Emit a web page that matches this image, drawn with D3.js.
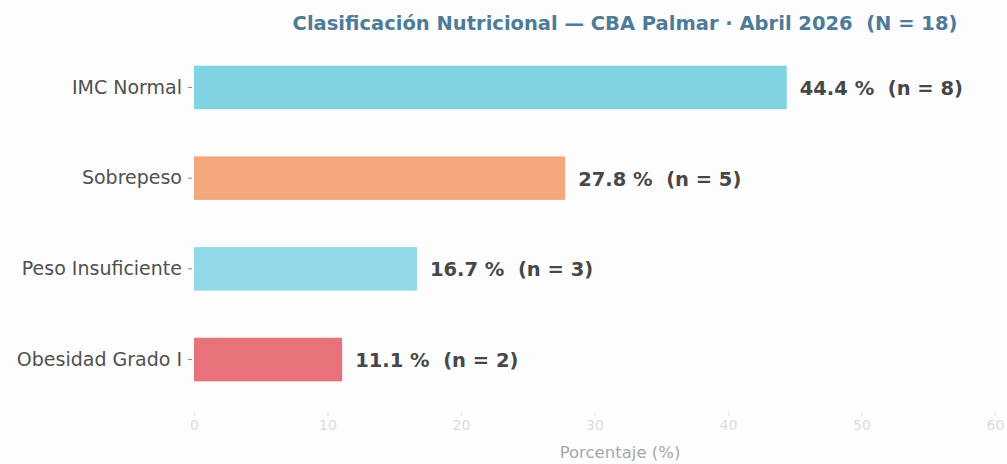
<!DOCTYPE html>
<html>
<head>
<meta charset="utf-8">
<title>Clasificación Nutricional</title>
<script src="https://d3js.org/d3.v7.min.js"></script>
<style>
    body { margin: 0; background: #fdfdfd; overflow: hidden; }
    svg text { font-family: "DejaVu Sans", sans-serif; white-space: pre; }
</style>
</head>
<body>
<svg></svg>
<script>
    const categories = ["IMC Normal", "Sobrepeso", "Peso Insuficiente", "Obesidad Grado I"];
    const percents = [44.4, 27.8, 16.7, 11.1];
    const counts = [8, 5, 3, 2];
    const colors = ["#80d4e2", "#f4a77c", "#92dae9", "#e8727a"];
    const xTicks = [0, 10, 20, 30, 40, 50, 60];
    const total = 18;

    const width = 1007, height = 464;
    const margin = { top: 43, right: 12, bottom: 60, left: 194 };

    const svg = d3.select("svg")
        .attr("width", width)
        .attr("height", height);

    svg.append("rect").attr("width", width).attr("height", height).attr("fill", "#fdfdfd");

    const x = d3.scaleLinear().domain([0, 60]).range([margin.left, width - margin.right]);
    const y = d3.scaleBand().domain(categories)
        .range([margin.top, height - margin.bottom])
        .paddingInner(0.52).paddingOuter(0.25);

    const data = categories.map((c, i) => ({ cat: c, pct: percents[i], n: counts[i], color: colors[i] }));

    // title
    svg.append("text")
        .attr("x", 625).attr("y", 30)
        .attr("text-anchor", "middle")
        .attr("font-size", "19.5px").attr("font-weight", "bold")
        .attr("fill", "#4d7b98")
        .text(`Clasificación Nutricional — CBA Palmar · Abril 2026  (N = ${total})`);

    // bars
    svg.append("g").selectAll("rect")
        .data(data).enter().append("rect")
        .attr("x", x(0))
        .attr("y", d => y(d.cat))
        .attr("width", d => x(d.pct) - x(0))
        .attr("height", y.bandwidth())
        .attr("fill", d => d.color);

    // value labels
    svg.append("g").selectAll("text")
        .data(data).enter().append("text")
        .attr("x", d => x(d.pct) + 13)
        .attr("y", d => y(d.cat) + y.bandwidth() / 2 + 1)
        .attr("dominant-baseline", "central")
        .attr("font-size", "19.5px").attr("font-weight", "bold")
        .attr("fill", "#474747")
        .text(d => `${d.pct.toFixed(1)} %  (n = ${d.n})`);

    // y axis
    const yAxis = svg.append("g")
        .attr("transform", `translate(${x(0) - 2},0)`)
        .call(d3.axisLeft(y).tickSize(4).tickPadding(6));
    yAxis.select(".domain").remove();
    yAxis.selectAll(".tick line").attr("stroke", "#888");
    yAxis.selectAll(".tick text")
        .attr("font-size", "19px").attr("fill", "#505050")
        .attr("font-family", "DejaVu Sans, sans-serif");

    // x axis
    const xAxis = svg.append("g")
        .attr("transform", `translate(0,${height - margin.bottom + 8})`)
        .call(d3.axisBottom(x).tickValues(xTicks).tickSize(4).tickPadding(4));
    xAxis.select(".domain").remove();
    xAxis.selectAll(".tick line").attr("stroke", "#e6e6e6");
    xAxis.selectAll(".tick text")
        .attr("font-size", "14px").attr("fill", "#dcdcdc")
        .attr("font-family", "DejaVu Sans, sans-serif");

    svg.append("text")
        .attr("x", 620).attr("y", 458)
        .attr("text-anchor", "middle")
        .attr("font-size", "16.5px").attr("fill", "#a8a8a8")
        .text("Porcentaje (%)");
</script>
</body>
</html>
